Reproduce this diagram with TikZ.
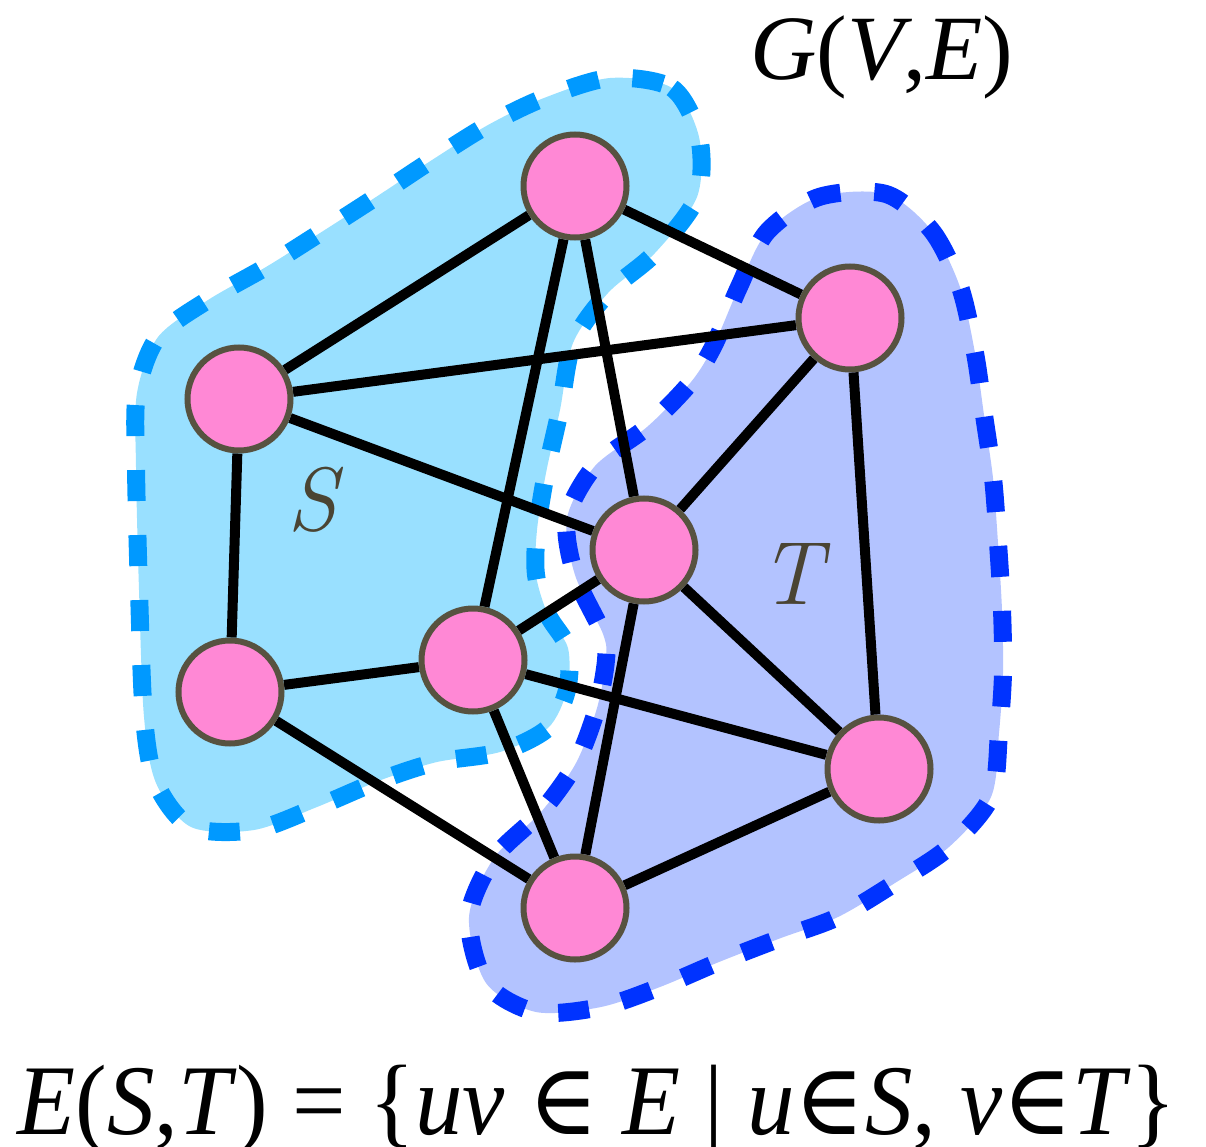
\documentclass[tikz,border=0pt]{standalone}
\usepackage{fontspec}
\newfontfamily\tnr{Liberation Serif}
\newfontfamily\dvs{DejaVu Serif}
\pgfdeclarelayer{regions}
\pgfdeclarelayer{edges}
\pgfsetlayers{regions,edges,main}
\definecolor{sfill}{RGB}{153,224,255}
\definecolor{sdash}{RGB}{0,153,255}
\definecolor{tfill}{RGB}{179,195,255}
\definecolor{tdash}{RGB}{0,51,255}
\definecolor{vfill}{RGB}{255,136,213}
\definecolor{vdraw}{RGB}{87,82,64}
\definecolor{lbl}{RGB}{74,68,51}
\begin{document}
\begin{tikzpicture}[x=1pt,y=-1pt,
  vertex/.style={circle,fill=vfill,draw=vdraw,line width=6pt,minimum size=103pt,inner sep=0pt},
  edge/.style={line width=10pt,black},
  region/.style={line width=18pt,dash pattern=on 31pt off 34pt},
  setlabel/.style={text=lbl,anchor=base},
  ]
\useasboundingbox (0,0) rectangle (1206,1147);

% vertices
\node[vertex] (A) at (575,186) {};
\node[vertex] (B) at (239,399) {};
\node[vertex] (C) at (850,318) {};
\node[vertex] (D) at (644,550) {};
\node[vertex] (E) at (230,692) {};
\node[vertex] (F) at (473,660) {};
\node[vertex] (G) at (879,769) {};
\node[vertex] (H) at (575,908) {};

% regions
\begin{pgfonlayer}{regions}
\draw[region,fill=sfill,draw=sdash] plot[smooth cycle] coordinates {
 (610,78) (672,88) (699,137) (697,197) (655,253) (608,293) (573,343)
 (560,410) (546,473) (537,530) (536,575) (548,615) (568,648) (567,690)
 (548,728) (500,752) (437,762) (381,780) (317,807) (254,830) (191,827)
 (156,783) (144,717) (139,590) (136,467) (137,393) (158,337) (208,300)
 (266,267) (320,233) (376,197) (432,160) (488,125) (544,98)};
\draw[region,fill=tfill,draw=tdash] plot[smooth cycle] coordinates {
 (886,194) (932,231) (960,287) (975,353) (984,415) (993,478) (998,543)
 (1002,610) (1003,673) (999,733) (991,797) (949,847) (895,883) (838,917)
 (781,938) (719,962) (660,987) (601,1007) (536,1012) (486,983) (469,917)
 (494,858) (541,812) (576,763) (597,708) (606,660) (603,634) (575,575)
 (567,518) (595,466) (647,427) (691,382) (714,345) (739,287) (767,232)
 (819,197)};
\end{pgfonlayer}

% edges
\begin{pgfonlayer}{edges}
\draw[edge] (A) -- (B);
\draw[edge] (A) -- (F);
\draw[edge] (A) -- (D);
\draw[edge] (A) -- (C);
\draw[edge] (B) -- (C);
\draw[edge] (B) -- (D);
\draw[edge] (B) -- (E);
\draw[edge] (E) -- (F);
\draw[edge] (E) -- (H);
\draw[edge] (F) -- (D);
\draw[edge] (F) -- (G);
\draw[edge] (F) -- (H);
\draw[edge] (D) -- (C);
\draw[edge] (D) -- (G);
\draw[edge] (D) -- (H);
\draw[edge] (C) -- (G);
\draw[edge] (G) -- (H);
\end{pgfonlayer}

% labels
\node[setlabel] (Slbl) at (312,530) {\fontsize{90}{100}\selectfont\itshape S};
\node[setlabel] (Tlbl) at (791,604) {\fontsize{90}{100}\selectfont\itshape T};
\node[anchor=base] (title) at (882,80) {\fontsize{92}{100}\selectfont\tnr\textit{G}(\textit{V},\textit{E})};
\node[anchor=base] (formula) at (597,1134) {\scalebox{0.95}[1]{\fontsize{100}{110}\selectfont\tnr
  \textit{E}(\textit{S},\textit{T}) = \{\textit{uv} {\dvs ∈} \textit{E} | \textit{u}{\dvs ∈}\textit{S}, \textit{v}{\dvs ∈}\textit{T}\}}};
\end{tikzpicture}
\end{document}
